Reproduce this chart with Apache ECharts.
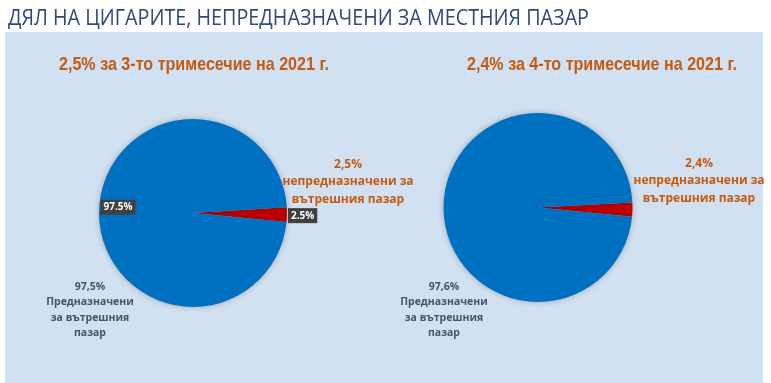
<!DOCTYPE html>
<html><head><meta charset="utf-8">
<script src="https://cdn.jsdelivr.net/npm/echarts@6/dist/echarts.min.js"></script>
<style>html,body{margin:0;padding:0;background:#fff}#c{width:771px;height:383px}</style>
</head><body><div id="c"></div>
<script>
const mainTitle = 'ДЯЛ НА ЦИГАРИТЕ, НЕПРЕДНАЗНАЧЕНИ ЗА МЕСТНИЯ ПАЗАР';
const categories = ['непредназначени за вътрешния пазар', 'Предназначени за вътрешния пазар'];
const q3Values = [2.5, 97.5];
const q4Values = [2.4, 97.6];
const q3Title = '2,5% за 3-то тримесечие на 2021 г.';
const q4Title = '2,4% за 4-то тримесечие на 2021 г.';
const q3Notes = ['2,5%\nнепредназначени за\nвътрешния пазар', '97,5%\nПредназначени\nза вътрешния\nпазар'];
const q4Notes = ['2,4%\nнепредназначени за\nвътрешния пазар', '97,6%\nПредназначени\nза вътрешния\nпазар'];

const chart = echarts.init(document.getElementById('c'), null, {renderer: 'canvas'});
const orange = '#c55a11';
const slate = '#44546a';
const colors = ['#c00000', '#0070c0'];

const ctx = document.createElement('canvas').getContext('2d');
function fitScale(text, font, width) { ctx.font = font; return width / ctx.measureText(text).width; }

const mainFont = '21px "Open Sans"';
const subFont = 'bold 19px "Liberation Sans"';
function fittedText(text, font, x, y, width, fill, align) {
  const s = fitScale(text, font, width);
  return {type: 'text', x: x, y: y, scaleX: s, originX: 0, style: {text: text, font: font, fill: fill, textAlign: align || 'left', textVerticalAlign: 'middle'}};
}

const boxLabel = {
  show: true, formatter: (p) => p.value.toFixed(1) + '%',
  backgroundColor: '#404040', color: '#fff', fontFamily: 'Open Sans', fontSize: 10, fontWeight: 'bold',
  padding: [3, 3, 2, 3]
};
function mkData(vals, withLabels) {
  return vals.map((v, i) => ({
    name: categories[i], value: v,
    itemStyle: {color: colors[i]},
    label: withLabels ? Object.assign({}, boxLabel, i === 0 ? {position: 'outside', offset: [-5, 1]} : {position: 'inside', offset: [-25, -5]}) : {show: false},
    labelLine: {show: false, length: 1, length2: 0}
  }));
}
const t3 = fittedText(q3Title, subFont, 194, 65, 270, orange, 'center');
const t4 = fittedText(q4Title, subFont, 602, 65, 270, orange, 'center');
chart.setOption({
  animation: false,
  backgroundColor: '#ffffff',
  graphic: [
    {type: 'rect', shape: {x: 5, y: 32, width: 758, height: 360}, style: {fill: '#d2e1f1'}, z: -10},
    fittedText(mainTitle, mainFont, 8, 19, 581, '#2f4a78', 'left'),
    t3, t4,
    {type: 'text', x: 348, y: 182, style: {text: q3Notes[0], textAlign: 'center', textVerticalAlign: 'middle', fill: orange, font: 'bold 12px "Open Sans"', lineHeight: 17.5}},
    {type: 'text', x: 90, y: 310, style: {text: q3Notes[1], textAlign: 'center', textVerticalAlign: 'middle', fill: slate, font: 'bold 10.5px "Open Sans"', lineHeight: 15.5}},
    {type: 'text', x: 699, y: 181, style: {text: q4Notes[0], textAlign: 'center', textVerticalAlign: 'middle', fill: orange, font: 'bold 12px "Open Sans"', lineHeight: 17.5}},
    {type: 'text', x: 444, y: 310, style: {text: q4Notes[1], textAlign: 'center', textVerticalAlign: 'middle', fill: slate, font: 'bold 10.5px "Open Sans"', lineHeight: 15.5}}
  ],
  series: [
    {type: 'pie', center: [193, 213], radius: [0, 94], startAngle: 3.5, clockwise: true,
     itemStyle: {shadowBlur: 6, shadowColor: 'rgba(0,0,0,0.25)'},
     labelLine: {show: false, length: 1, length2: 0},
     data: mkData(q3Values, true)},
    {type: 'pie', center: [538, 207.5], radius: [0, 94.5], startAngle: 3, clockwise: true,
     itemStyle: {shadowBlur: 6, shadowColor: 'rgba(0,0,0,0.25)'}, labelLine: {show: false},
     data: mkData(q4Values, false)}
  ]
});
</script></body></html>
